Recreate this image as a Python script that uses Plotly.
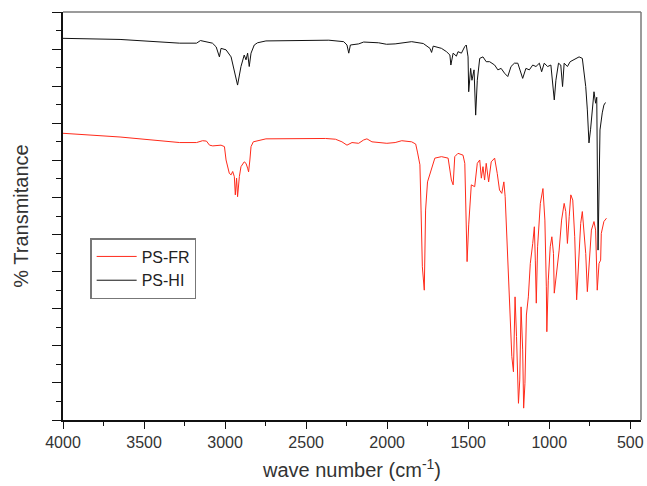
import plotly.graph_objects as go

# PS-HI (black) spectrum: wavenumber (cm-1) and transmittance (arb. %)
hi_wn = [4000, 3648, 3280, 3176, 3152, 3078, 3055, 3035, 3025, 2994, 2963, 2943, 2923, 2902, 2882,
         2871, 2861, 2851, 2840, 2820, 2800, 2748, 2421, 2391, 2360, 2268, 2248, 2237, 2227, 2176,
         2145, 2053, 2004, 1951, 1849, 1777, 1736, 1726, 1716, 1665, 1634, 1613, 1607, 1593, 1573,
         1563, 1542, 1521, 1512, 1501, 1497, 1485, 1477, 1464, 1454, 1444, 1429, 1409, 1389, 1368,
         1337, 1317, 1297, 1276, 1256, 1236, 1215, 1194, 1184, 1164, 1144, 1123, 1102, 1082, 1061,
         1047, 1031, 1010, 990, 969, 959, 943, 929, 918, 908, 888, 871, 847, 816, 796,
         775, 765, 755, 745, 734, 724, 714, 707, 699, 687, 673, 663, 653]
hi_t = [102.9, 102.6, 101.6, 101.6, 102.3, 101.6, 100.6, 97.9, 100.2, 99.8, 97.9, 94.4, 90.3, 95.3, 98.4,
        97.1, 98.9, 95.3, 98.9, 101.1, 101.7, 102.2, 102.2, 102.4, 102.4, 102.0, 101.1, 98.9, 101.1, 101.4,
        101.9, 101.7, 101.3, 101.4, 102.0, 101.5, 100.2, 99.1, 100.8, 100.2, 99.3, 98.4, 95.7, 98.9, 98.1,
        99.3, 98.9, 100.7, 101.1, 97.9, 88.5, 94.8, 91.6, 94.4, 82.2, 91.6, 97.5, 97.9, 96.6, 96.6,
        95.7, 94.4, 94.8, 93.5, 92.6, 95.3, 96.2, 96.2, 94.8, 92.1, 94.8, 94.4, 95.7, 95.3, 96.2,
        93.9, 96.2, 95.3, 95.7, 86.3, 91.6, 96.2, 95.7, 89.9, 96.2, 95.3, 96.6, 97.1, 97.9, 97.5,
        89.9, 83.6, 74.7, 78.4, 84.5, 88.5, 85.4, 87.0, 45.8, 78.2, 82.8, 84.9, 85.6]

# PS-FR (red) spectrum
fr_wn = [4000, 3648, 3280, 3176, 3139, 3115, 3096, 3076, 3025, 3004, 2994, 2974, 2963, 2953, 2943,
         2937, 2929, 2923, 2912, 2902, 2882, 2871, 2861, 2855, 2847, 2840, 2826, 2748, 2380, 2319,
         2279, 2248, 2217, 2176, 2145, 2125, 2094, 2053, 2002, 1951, 1910, 1849, 1824, 1812, 1798,
         1791, 1783, 1771, 1763, 1751, 1736, 1706, 1665, 1624, 1613, 1604, 1593, 1583, 1563, 1532,
         1521, 1515, 1507, 1497, 1491, 1481, 1460, 1444, 1429, 1419, 1409, 1399, 1389, 1374, 1358,
         1337, 1321, 1307, 1293, 1280, 1272, 1256, 1245, 1231, 1221, 1211, 1202, 1190, 1182, 1174,
         1164, 1158, 1150, 1141, 1129, 1117, 1102, 1092, 1086, 1080, 1072, 1055, 1039, 1027, 1018,
         1015, 1006, 994, 984, 974, 969, 957, 939, 924, 908, 898, 888, 877, 867, 855,
         843, 831, 816, 806, 796, 785, 775, 765, 749, 740, 724, 714, 704, 693, 683,
         679, 663, 647]
fr_t = [77.3, 76.3, 74.8, 74.8, 75.3, 75.2, 74.1, 73.9, 74.1, 73.7, 70.1, 66.5, 66.1, 67.0, 65.6,
        60.7, 65.2, 60.2, 65.6, 68.3, 69.6, 69.2, 67.9, 66.9, 70.1, 73.7, 75.0, 75.8, 75.9, 75.7,
        75.0, 74.1, 74.8, 74.6, 75.5, 75.8, 75.0, 74.8, 74.6, 74.8, 75.3, 75.0, 74.4, 72.0, 68.8,
        56.6, 41.3, 35.0, 56.6, 64.2, 66.5, 70.6, 71.0, 70.6, 67.4, 64.7, 63.4, 71.0, 71.9, 71.4,
        69.2, 56.2, 42.7, 52.6, 57.5, 63.4, 62.9, 69.2, 70.1, 65.2, 68.3, 64.7, 69.2, 64.2, 69.6,
        70.6, 66.5, 62.0, 61.1, 64.2, 60.2, 44.0, 30.5, 17.1, 13.0, 33.2, 22.5, 4.5, 10.8, 30.5,
        18.9, 3.2, 9.9, 28.3, 33.2, 42.2, 47.6, 52.1, 43.1, 31.5, 46.7, 58.4, 62.4, 53.9, 35.9,
        23.8, 37.7, 46.7, 49.4, 44.9, 34.2, 38.6, 45.8, 53.9, 58.4, 56.2, 47.6, 54.8, 60.7, 59.3,
        49.4, 32.4, 44.9, 53.0, 56.2, 50.3, 44.9, 34.6, 44.9, 51.2, 53.5, 51.2, 35.0, 42.2, 43.1,
        50.3, 53.5, 54.4]

x_tickvals = [4000, 3500, 3000, 2500, 2000, 1500, 1000, 500]
x_ticktext = ["4000", "3500", "3000", "2500", "2000", "1500", "1000", "500"]

FONT = "Liberation Sans, Arial, sans-serif"

fig = go.Figure()
fig.add_trace(go.Scatter(x=fr_wn, y=fr_t, mode="lines", name="PS-FR",
                         line=dict(color="#ff2a1a", width=1)))
fig.add_trace(go.Scatter(x=hi_wn, y=hi_t, mode="lines", name="PS-HI",
                         line=dict(color="#111111", width=1)))

fig.update_layout(
    width=647, height=486,
    margin=dict(l=63, r=3, t=12, b=66),
    paper_bgcolor="white", plot_bgcolor="white",
    font=dict(family=FONT, color="#333333"),
    showlegend=True,
    legend=dict(x=0.047, y=0.446, xanchor="left", yanchor="top",
                bordercolor="#777777", borderwidth=1.5, bgcolor="white",
                font=dict(size=16, color="#222222"),
                tracegroupgap=0, itemwidth=40),
)
fig.update_xaxes(
    range=[4000, 434], tickmode="array", tickvals=x_tickvals, ticktext=x_ticktext,
    showgrid=False, zeroline=False, showline=True, linecolor="#111111", linewidth=1.5,
    ticks="outside", ticklen=7, tickwidth=1.2, tickcolor="#111111",
    tickfont=dict(size=16, color="#333333"),
    minor=dict(dtick=250, ticks="outside", ticklen=4, tickcolor="#111111", tickwidth=1.2, showgrid=False),
    title=dict(text="wave number (cm<sup>-1</sup>)", font=dict(size=20, color="#333333"), standoff=13),
)
fig.update_yaxes(
    range=[0, 110], dtick=10, showticklabels=False,
    showgrid=False, zeroline=False, showline=True, linecolor="#111111", linewidth=1.5,
    ticks="outside", ticklen=9, tickwidth=1.2, tickcolor="#111111",
    minor=dict(dtick=5, ticks="outside", ticklen=5, tickcolor="#111111", tickwidth=1.2, showgrid=False),
    title=dict(text="% Transmitance", font=dict(size=20, color="#333333"), standoff=18),
)
# gray top and right frame
fig.add_shape(type="line", xref="paper", yref="paper", x0=0, x1=1, y0=1, y1=1,
              line=dict(color="#7a7a7a", width=1.5))
fig.add_shape(type="line", xref="paper", yref="paper", x0=1, x1=1, y0=0, y1=1,
              line=dict(color="#7a7a7a", width=1.5))

fig.write_html("out.html")
